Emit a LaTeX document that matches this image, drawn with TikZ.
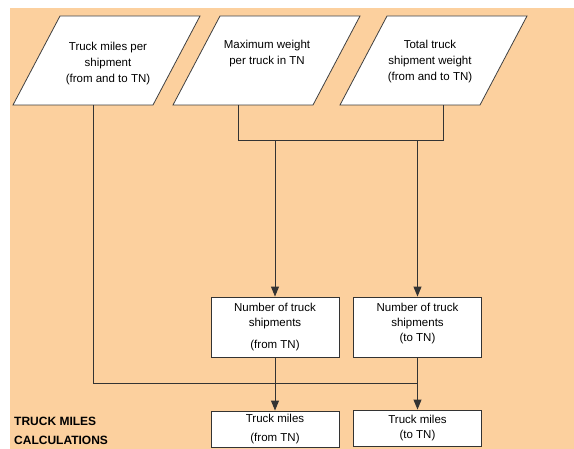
\documentclass[tikz,border=0pt]{standalone}
\usepackage{fontspec}
\setmainfont{Liberation Sans}
\usetikzlibrary{arrows.meta,calc}
\definecolor{peach}{RGB}{252,208,158}
\tikzset{
  inframe/.style={draw=black!75, fill=white, line width=0.8pt},
  intext/.style={inner sep=0pt, align=center, font=\fontsize{11.5}{16}\selectfont},
  calcbox/.style={rectangle, draw=black!80, fill=white, line width=0.9pt,
    minimum width=128pt, inner sep=0pt, align=center,
    font=\fontsize{11.5}{15}\selectfont},
  link/.style={draw=black!80, line width=1pt},
  arr/.style={link, -{Triangle[width=8pt,length=10pt]}}
}
\begin{document}
\begin{tikzpicture}[x=1pt,y=-1pt]
    \useasboundingbox (0,0) rectangle (574,449);
    \fill[peach] (10,8) rectangle (574,449);

    % inputs
    \foreach \x in {13,173,340}
        {\filldraw[inframe] (\x,105) -- ++(140,0) -- ++(47,-89) -- ++(-140,0) -- cycle;}
    \node[intext] (miles) at (108,64) {Truck miles per\\shipment\\(from and to TN)};
    \node[intext] (maxwt) at (267,54) {Maximum weight\\per truck in TN};
    \node[intext] (totwt) at (430,62) {Total truck\\shipment weight\\(from and to TN)};

    % calculations
    \node[calcbox, minimum height=60pt] (shipfrom) at (275,327) {Number of truck\\shipments\\[7pt](from TN)};
    \node[calcbox, minimum height=60pt] (shipto) at (417.5,327) {Number of truck\\shipments\\(to TN)\\[-5pt]\mbox{}};
    \node[calcbox, minimum height=36pt] (milesfrom) at (275,429) {Truck miles\\[4pt](from TN)};
    \node[calcbox, minimum height=36pt] (milesto) at (417.5,428) {Truck miles\\(to TN)};

    \node[anchor=north west, inner sep=0pt, align=left,
          font=\bfseries\fontsize{12}{18.5}\selectfont] (title) at (14,417) {TRUCK MILES\\CALCULATIONS};

    % connectors
    \coordinate (mlout) at (93,105);
    \coordinate (mwout) at (238,105);
    \coordinate (twout) at (443,105);
    \coordinate (mid) at ($(shipto.south)!.5!(milesto.north)$);

    \draw[link] (mwout) -- ++(0,36) coordinate (join) -| (twout);
    \draw[arr] (join -| shipfrom.north) -- (shipfrom.north);
    \draw[arr] (join -| shipto.north) -- (shipto.north);
    \draw[link] (mlout) |- (mid);
    \draw[arr] (shipfrom) -- (milesfrom);
    \draw[arr] (shipto) -- (milesto);
\end{tikzpicture}
\end{document}
